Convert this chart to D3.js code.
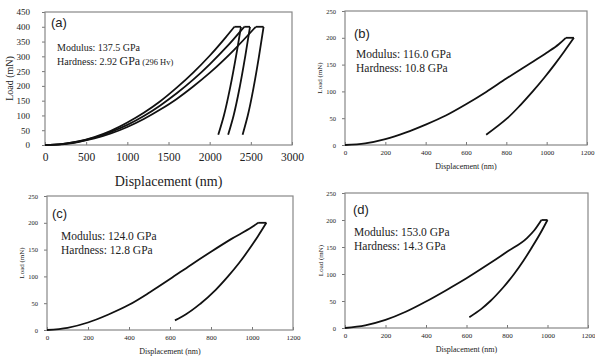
<!DOCTYPE html>
<html>
<head>
<meta charset="utf-8">
<script src="https://cdn.jsdelivr.net/npm/d3@7"></script>
<style>
  body { margin: 0; background: #fff; }
  svg { display: block; }
  text { font-family: "Liberation Serif", "DejaVu Serif", serif; fill: #222; }
  .tag { font-family: "Liberation Sans", Arial, sans-serif; }
</style>
</head>
<body>
<svg id="chart" width="595" height="358"></svg>
<script>
// ---- data ----
// panel (a): three indents, load in mN vs displacement in nm
const aCurve1 = [[0,0],[200,3],[400,12],[600,27],[800,48],[1000,76],[1200,109],[1400,148],[1600,194],[1800,245],[2000,302],[2200,366],[2300,400]];
const aCurve2 = [[0,0],[200,3],[400,11],[600,25],[800,44],[1000,68],[1200,98],[1400,134],[1600,175],[1800,221],[2000,273],[2200,330],[2420,400]];
const aCurve3 = [[0,0],[200,2],[400,10],[600,22],[800,39],[1000,61],[1200,88],[1400,120],[1600,156],[1800,198],[2000,244],[2300,323],[2560,400]];
const aUnload1 = [[2380,400],[2320,300],[2253,200],[2173,100],[2105,35]];
const aUnload2 = [[2490,400],[2432,300],[2368,200],[2291,100],[2225,35]];
const aUnload3 = [[2655,400],[2599,300],[2537,200],[2463,100],[2400,35]];

// panel (b)
const bLoad = [[0,0],[100,3],[200,11],[300,23],[400,38],[500,55],[600,76],[700,99],[800,124],[900,148],[1000,172],[1060,188],[1095,200]];
const bUnload = [[1135,200],[1088,175],[1039,150],[987,125],[931,100],[871,75],[805,50],[700,19]];

// panel (c)
const cLoad = [[0,0],[100,4],[200,14],[300,29],[400,47],[500,70],[600,95],[700,121],[800,146],[900,170],[1000,192],[1030,200]];
const cUnload = [[1070,200],[1029,175],[985,150],[937,125],[883,100],[823,75],[751,50],[680,30],[624,18]];

// panel (d)
const dLoad = [[0,0],[100,5],[200,15],[300,30],[400,49],[500,70],[600,92],[700,116],[800,141],[900,167],[935,181],[970,200]];
const dUnload = [[1000,200],[964,175],[924,150],[882,125],[835,100],[781,75],[718,50],[672,35],[614,20]];

const dispTicksA = [0,500,1000,1500,2000,2500,3000];
const loadTicksA = [0,50,100,150,200,250,300,350,400,450];
const dispTicksB = [0,200,400,600,800,1000,1200];
const loadTicksB = [0,50,100,150,200,250];

const svg = d3.select("#chart");

function drawPanel(p) {
  const x = d3.scaleLinear().domain([0, d3.max(p.xTicks)]).range([p.left, p.right]);
  const y = d3.scaleLinear().domain([0, d3.max(p.yTicks)]).range([p.bottom, p.top]);
  const g = svg.append("g");

  // y axis, ticks outward
  const ya = g.append("g").attr("transform", `translate(${p.left},0)`)
    .call(d3.axisLeft(y).tickValues(p.yTicks).tickSize(3).tickPadding(p.yPad).tickFormat(d3.format("d")));
  ya.selectAll("text").attr("font-size", p.yFont).style("font-family", "Liberation Serif");
  ya.select(".domain").remove();
  ya.selectAll("line").attr("stroke", "#777");

  // x axis, ticks inward
  const xa = g.append("g").attr("transform", `translate(0,${p.bottom})`)
    .call(d3.axisBottom(x).tickValues(p.xTicks).tickSize(-3).tickPadding(p.xPad).tickFormat(d3.format("d")));
  xa.selectAll("text").attr("font-size", p.xFont).style("font-family", "Liberation Serif");
  xa.select(".domain").remove();
  xa.selectAll("line").attr("stroke", "#777");

  // frame
  g.append("rect").attr("x", p.left).attr("y", p.top)
    .attr("width", p.right - p.left).attr("height", p.bottom - p.top)
    .attr("fill", "none").attr("stroke", "#888").attr("stroke-width", 1.2);

  // curves: loading, hold at peak, unloading
  const loadLine = d3.line().x(d => x(d[0])).y(d => y(d[1])).curve(d3.curveMonotoneX);
  const holdLine = d3.line().x(d => x(d[0])).y(d => y(d[1]));
  const unloadLine = d3.line().x(d => x(d[0])).y(d => y(d[1])).curve(d3.curveMonotoneY);
  p.loads.forEach((ld, i) => {
    const ul = p.unloads[i];
    const hold = [ld[ld.length - 1], ul[0]];
    [loadLine(ld), holdLine(hold), unloadLine(ul)].forEach(path => {
      g.append("path").attr("d", path).attr("fill", "none")
        .attr("stroke", "#111").attr("stroke-width", 1.8).attr("stroke-linejoin", "round");
    });
  });

  // axis titles
  g.append("text").attr("x", (p.left + p.right) / 2).attr("y", p.xTitleY)
    .attr("text-anchor", "middle").attr("font-size", p.titleFont).text("Displacement (nm)");
  g.append("text").attr("transform", `translate(${p.yTitleX},${(p.top + p.bottom) / 2}) rotate(-90)`)
    .attr("text-anchor", "middle").attr("font-size", p.yTitleFont).text("Load (mN)");

  // panel tag and properties
  g.append("text").attr("class", "tag").attr("x", p.tagX).attr("y", p.tagY)
    .attr("font-size", 13).text(p.tag);
  const info = g.append("g").attr("font-size", p.infoFont);
  p.info.forEach((line, i) => {
    const t = info.append("text").attr("x", p.infoX).attr("y", p.infoY + i * p.infoStep);
    line.forEach(part => t.append("tspan").attr("font-size", part[1] || p.infoFont).text(part[0]));
  });
}

drawPanel({
  left: 45, right: 292, top: 12, bottom: 145,
  xTicks: dispTicksA, yTicks: loadTicksA,
  yFont: 9, xFont: 11.5, yPad: 12, xPad: 8,
  titleFont: 14, xTitleY: 186, yTitleFont: 10, yTitleX: 13,
  loads: [aCurve1, aCurve2, aCurve3], unloads: [aUnload1, aUnload2, aUnload3],
  tag: "(a)", tagX: 51, tagY: 27,
  info: [[["Modulus: 137.5 GPa"]], [["Hardness: 2.92 "], ["GPa", 12], [" (296 Hv)", 8.5]]],
  infoX: 57, infoY: 51, infoStep: 14, infoFont: 10
});

drawPanel({
  left: 345, right: 587, top: 11, bottom: 145,
  xTicks: dispTicksB, yTicks: loadTicksB,
  yFont: 6.5, xFont: 7, yPad: 6, xPad: 5,
  titleFont: 8, xTitleY: 169, yTitleFont: 7, yTitleX: 322,
  loads: [bLoad], unloads: [bUnload],
  tag: "(b)", tagX: 354, tagY: 38,
  info: [[["Modulus: 116.0 GPa"]], [["Hardness: 10.8 GPa"]]],
  infoX: 356, infoY: 58, infoStep: 14, infoFont: 11.5
});

drawPanel({
  left: 47, right: 293, top: 196, bottom: 330,
  xTicks: dispTicksB, yTicks: loadTicksB,
  yFont: 6.5, xFont: 7, yPad: 6, xPad: 5,
  titleFont: 8, xTitleY: 354, yTitleFont: 7, yTitleX: 24,
  loads: [cLoad], unloads: [cUnload],
  tag: "(c)", tagX: 52, tagY: 218,
  info: [[["Modulus: 124.0 GPa"]], [["Hardness: 12.8 GPa"]]],
  infoX: 61, infoY: 240, infoStep: 14, infoFont: 11.5
});

drawPanel({
  left: 345, right: 588, top: 193, bottom: 328,
  xTicks: dispTicksB, yTicks: loadTicksB,
  yFont: 6.5, xFont: 7, yPad: 6, xPad: 5,
  titleFont: 8, xTitleY: 352, yTitleFont: 7, yTitleX: 323,
  loads: [dLoad], unloads: [dUnload],
  tag: "(d)", tagX: 353, tagY: 214,
  info: [[["Modulus: 153.0 GPa"]], [["Hardness: 14.3 GPa"]]],
  infoX: 354, infoY: 236, infoStep: 14, infoFont: 11.5
});
</script>
</body>
</html>
